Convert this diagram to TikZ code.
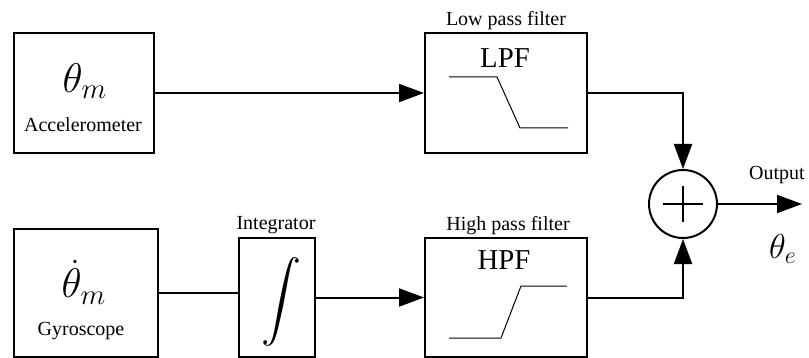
\documentclass[tikz,border=0pt]{standalone}
\usepackage{fontspec}
\setmainfont{Liberation Serif}
\usetikzlibrary{arrows.meta}
\tikzset{
  bloc/.style={draw, line width=1pt, inner sep=0pt},
  liaison/.style={line width=1pt},
  fleche/.style={liaison, -{Triangle[length=12.5pt,width=9pt]}},
  courbe/.style={line width=0.5pt},
  texte/.style={inner sep=0pt}
}
\begin{document}
\begin{tikzpicture}[x=0.5pt,y=-0.5pt]

\useasboundingbox (0,0) rectangle (809,358);

% Blocs
\node[bloc, minimum width=70pt, minimum height=60pt] (acc) at (84,93) {};
\node[bloc, minimum width=81pt, minimum height=60pt] (lpf) at (506,93) {};
\node[bloc, minimum width=72pt, minimum height=64pt] (gyro) at (86,293) {};
\node[bloc, minimum width=38pt, minimum height=59.5pt] (integ) at (277,297.5) {};
\node[bloc, minimum width=81pt, minimum height=59.5pt] (hpf) at (506,297.5) {};
\node[draw, circle, line width=1pt, minimum size=34pt, inner sep=0pt] (somme) at (683,204) {};

% Textes
\node[texte] (accsym) at (85,81) {\huge $\theta_m$};
\node[texte] (acctxt) at (83,125) {Accelerometer};
\node[texte] (gyrosym) at (84,282) {\huge $\dot{\theta}_m$};
\node[texte] (gyrotxt) at (81,331) {Gyroscope};
\node[texte] (intsym) at (281,302) {\scalebox{2.0}{$\displaystyle\int$}};
\node[texte] (lpftxt) at (505,58) {\Large LPF};
\node[texte] (hpftxt) at (504,260) {\Large HPF};

% Titres
\node[texte] (lpftitre) at (506,21) {Low pass filter};
\node[texte] (inttitre) at (276,225) {Integrator};
\node[texte] (hpftitre) at (508,226) {High pass filter};
\node[texte] (sortie) at (777,175) {Output};
\node[texte] (thetae) at (783,249) {\LARGE $\theta_e$};

% Gabarits des filtres
\draw[courbe]
(449,77)
--
(497,77)
--
(520,128)
--
(568,128);

\draw[courbe]
(449,338)
--
(501,338)
--
(521,286)
--
(567,286);

% Signe plus
\draw[liaison] (somme.center) ++(-20,0) -- ++(40,0);
\draw[liaison] (somme.center) ++(0,-18) -- ++(0,36);

% Liaisons
\coordinate (fin) at (802,204);
\draw[fleche] (acc.east) -- (lpf.west);
\draw[fleche] (lpf.east) -| (somme.north);
\draw[liaison] (gyro.east) -- (gyro.east -| integ.west);
\draw[fleche] (integ.east) -- (integ.east -| hpf.west);
\draw[fleche] (hpf.east) -| (somme.south);
\draw[fleche] (somme.east) -- (fin);

\end{tikzpicture}
\end{document}
